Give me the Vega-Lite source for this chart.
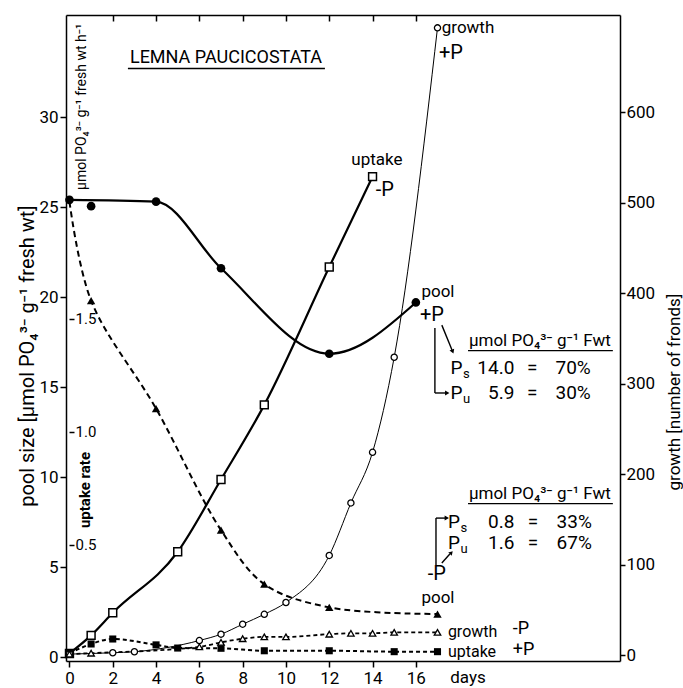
{
  "$schema": "https://vega.github.io/schema/vega-lite/v6.json",
  "width": 554,
  "height": 646,
  "autosize": "none",
  "padding": {"left": 66, "top": 15, "right": 63, "bottom": 27},
  "background": "white",
  "config": {
    "view": {"stroke": null},
    "font": "Roboto",
    "axis": {"grid": false, "domainColor": "black", "domainWidth": 1.5, "tickColor": "black", "tickWidth": 1.5, "labelColor": "black", "labelFont": "Roboto", "labelFontSize": 17},
    "text": {"color": "black", "font": "Roboto"},
    "rule": {"color": "black", "strokeWidth": 1.4}
  },
  "datasets": {
    "poolPlus": [{"day": 0, "pool": 25.4}, {"day": 1, "pool": 25.05}, {"day": 4, "pool": 25.3}, {"day": 7, "pool": 21.6}, {"day": 12, "pool": 16.85}, {"day": 16, "pool": 19.7}],
    "poolMinus": [{"day": 0, "pool": 25.3}, {"day": 1, "pool": 19.8}, {"day": 4, "pool": 13.8}, {"day": 7, "pool": 7.05}, {"day": 9, "pool": 4.05}, {"day": 12, "pool": 2.76}, {"day": 17, "pool": 2.39}],
    "uptakeMinus": [{"day": 0, "rate": 0.02}, {"day": 1, "rate": 0.1}, {"day": 2, "rate": 0.2}, {"day": 5, "rate": 0.47}, {"day": 7, "rate": 0.79}, {"day": 9, "rate": 1.12}, {"day": 12, "rate": 1.73}, {"day": 14, "rate": 2.13}],
    "uptakePlus": [{"day": 0, "rate": 0.02}, {"day": 1, "rate": 0.062}, {"day": 2, "rate": 0.084}, {"day": 4, "rate": 0.058}, {"day": 5, "rate": 0.044}, {"day": 7, "rate": 0.043}, {"day": 9, "rate": 0.032}, {"day": 12, "rate": 0.032}, {"day": 15, "rate": 0.028}, {"day": 17, "rate": 0.028}],
    "growthPlus": [{"day": 0, "fronds": 1}, {"day": 2, "fronds": 2.5}, {"day": 3, "fronds": 3.6}, {"day": 6, "fronds": 16}, {"day": 7, "fronds": 23}, {"day": 8, "fronds": 34}, {"day": 9, "fronds": 45}, {"day": 10, "fronds": 58}, {"day": 12, "fronds": 110}, {"day": 13, "fronds": 168}, {"day": 14, "fronds": 224}, {"day": 15, "fronds": 329}, {"day": 17, "fronds": 693}],
    "growthMinus": [{"day": 0, "fronds": 1}, {"day": 1, "fronds": 2}, {"day": 6, "fronds": 9}, {"day": 7, "fronds": 14}, {"day": 8, "fronds": 18}, {"day": 9, "fronds": 20}, {"day": 10, "fronds": 20}, {"day": 12, "fronds": 23}, {"day": 13, "fronds": 24}, {"day": 14, "fronds": 24}, {"day": 15, "fronds": 25}, {"day": 17, "fronds": 25}]
  },
  "resolve": {"scale": {"x": "independent", "y": "independent"}, "axis": {"x": "independent", "y": "independent"}},
  "layer": [
    {
      "encoding": {
        "x": {"field": "day", "type": "quantitative", "scale": {"domain": [-0.16, 25.43], "nice": false, "zero": false}, "axis": null},
        "y": {"field": "rate", "type": "quantitative", "scale": {"domain": [-0.0133, 2.845], "nice": false, "zero": false}, "axis": {"orient": "right", "offset": -551, "values": [0.5, 1, 1.5], "format": ".1f", "domain": false, "tickSize": 5, "labelFontSize": 15, "labelPadding": 1, "title": null}}
      },
      "layer": [
        {"data": {"name": "uptakeMinus"}, "mark": {"type": "line", "interpolate": "monotone", "color": "black", "strokeWidth": 2.2}},
        {"data": {"name": "uptakePlus"}, "mark": {"type": "line", "interpolate": "monotone", "color": "black", "strokeWidth": 2, "strokeDash": [4, 3]}},
        {"data": {"name": "uptakeMinus"}, "mark": {"type": "point", "shape": "square", "filled": true, "fill": "white", "stroke": "black", "strokeWidth": 1.5, "size": 62, "opacity": 1}},
        {"data": {"name": "uptakePlus"}, "mark": {"type": "point", "shape": "square", "filled": true, "color": "black", "size": 50, "opacity": 1}}
      ]
    },
    {
      "encoding": {
        "x": {"field": "day", "type": "quantitative", "scale": {"domain": [-0.16, 25.43], "nice": false, "zero": false}, "axis": {"orient": "top", "values": [2, 4, 6, 8, 10, 12, 14, 16], "labels": false, "tickSize": -6, "title": null}},
        "y": {"field": "fronds", "type": "quantitative", "scale": {"domain": [-6.63, 707.2], "nice": false, "zero": false}, "axis": {"orient": "right", "values": [0, 100, 200, 300, 400, 500, 600], "tickSize": 5, "labelPadding": 1, "title": null}}
      },
      "layer": [
        {"data": {"name": "growthPlus"}, "mark": {"type": "line", "interpolate": "monotone", "color": "black", "strokeWidth": 1}},
        {"data": {"name": "growthMinus"}, "mark": {"type": "line", "interpolate": "monotone", "color": "black", "strokeWidth": 1.8, "strokeDash": [4, 3]}},
        {"data": {"name": "growthPlus"}, "mark": {"type": "point", "shape": "circle", "filled": true, "fill": "white", "stroke": "black", "strokeWidth": 1.3, "size": 38, "opacity": 1}},
        {"data": {"name": "growthMinus"}, "mark": {"type": "point", "shape": "triangle-up", "filled": true, "fill": "white", "stroke": "black", "strokeWidth": 1.3, "size": 42, "opacity": 1}}
      ]
    },
    {
      "layer": [
        {"data": {"name": "poolPlus"}, "transform": [{"filter": "datum.day != 1"}], "mark": {"type": "line", "interpolate": "monotone", "color": "black", "strokeWidth": 2.2},
         "encoding": {
           "x": {"field": "day", "type": "quantitative", "scale": {"domain": [-0.16, 25.43], "nice": false, "zero": false}, "axis": {"orient": "bottom", "values": [0, 2, 4, 6, 8, 10, 12, 14, 16], "tickSize": 6, "labelPadding": 3, "title": null}},
           "y": {"field": "pool", "type": "quantitative", "scale": {"domain": [-0.22, 35.67], "nice": false, "zero": false}, "axis": {"orient": "left", "values": [0, 5, 10, 15, 20, 25, 30], "tickSize": 6, "labelPadding": 2, "title": null}}
         }},
        {"data": {"name": "poolMinus"}, "mark": {"type": "line", "interpolate": "catmull-rom", "color": "black", "strokeWidth": 2, "strokeDash": [6, 4]},
         "encoding": {"x": {"field": "day", "type": "quantitative", "scale": {"domain": [-0.16, 25.43], "nice": false, "zero": false}}, "y": {"field": "pool", "type": "quantitative", "scale": {"domain": [-0.22, 35.67], "nice": false, "zero": false}}}},
        {"data": {"name": "poolMinus"}, "transform": [{"filter": "datum.day > 0"}], "mark": {"type": "point", "shape": "triangle-up", "filled": true, "color": "black", "size": 70, "opacity": 1},
         "encoding": {"x": {"field": "day", "type": "quantitative", "scale": {"domain": [-0.16, 25.43], "nice": false, "zero": false}}, "y": {"field": "pool", "type": "quantitative", "scale": {"domain": [-0.22, 35.67], "nice": false, "zero": false}}}},
        {"data": {"name": "poolPlus"}, "mark": {"type": "point", "shape": "circle", "filled": true, "color": "black", "size": 75, "opacity": 1},
         "encoding": {"x": {"field": "day", "type": "quantitative", "scale": {"domain": [-0.16, 25.43], "nice": false, "zero": false}}, "y": {"field": "pool", "type": "quantitative", "scale": {"domain": [-0.22, 35.67], "nice": false, "zero": false}}}},

        {"data": {"values": [{}]}, "mark": {"type": "text", "text": "LEMNA PAUCICOSTATA", "fontSize": 18}, "encoding": {"x": {"datum": 7.23}, "y": {"datum": 33.28}}},
        {"data": {"values": [{}]}, "mark": {"type": "rule", "strokeWidth": 1.5}, "encoding": {"x": {"datum": 2.7}, "x2": {"datum": 11.8}, "y": {"datum": 32.7}}},

        {"data": {"values": [{}]}, "mark": {"type": "text", "text": "uptake", "fontSize": 17}, "encoding": {"x": {"datum": 14.2}, "y": {"datum": 27.61}}},
        {"data": {"values": [{}]}, "mark": {"type": "text", "text": "-P", "fontSize": 20}, "encoding": {"x": {"datum": 14.57}, "y": {"datum": 25.94}}},
        {"data": {"values": [{}]}, "mark": {"type": "text", "text": "growth", "fontSize": 17}, "encoding": {"x": {"datum": 18.41}, "y": {"datum": 34.94}}},
        {"data": {"values": [{}]}, "mark": {"type": "text", "text": "+P", "fontSize": 20}, "encoding": {"x": {"datum": 17.62}, "y": {"datum": 33.56}}},
        {"data": {"values": [{}]}, "mark": {"type": "text", "text": "pool", "fontSize": 17}, "encoding": {"x": {"datum": 17.02}, "y": {"datum": 20.28}}},
        {"data": {"values": [{}]}, "mark": {"type": "text", "text": "+P", "fontSize": 20}, "encoding": {"x": {"datum": 16.74}, "y": {"datum": 19.0}}},

        {"data": {"values": [{}]}, "mark": {"type": "text", "text": "μmol PO₄³⁻ g⁻¹ Fwt", "fontSize": 17}, "encoding": {"x": {"datum": 21.73}, "y": {"datum": 17.55}}},
        {"data": {"values": [{}]}, "mark": {"type": "rule", "strokeWidth": 1.3}, "encoding": {"x": {"datum": 18.41}, "x2": {"datum": 25.1}, "y": {"datum": 17.02}}},
        {"data": {"values": [{}]}, "mark": {"type": "text", "text": "P", "fontSize": 19, "align": "left"}, "encoding": {"x": {"datum": 17.6}, "y": {"datum": 16.06}}},
        {"data": {"values": [{}]}, "mark": {"type": "text", "text": "s", "fontSize": 13, "align": "left"}, "encoding": {"x": {"datum": 18.18}, "y": {"datum": 15.75}}},
        {"data": {"values": [{}]}, "mark": {"type": "text", "text": "14.0", "fontSize": 19, "align": "right"}, "encoding": {"x": {"datum": 20.55}, "y": {"datum": 16.06}}},
        {"data": {"values": [{}]}, "mark": {"type": "text", "text": "=", "fontSize": 19}, "encoding": {"x": {"datum": 21.38}, "y": {"datum": 16.06}}},
        {"data": {"values": [{}]}, "mark": {"type": "text", "text": "70%", "fontSize": 19, "align": "left"}, "encoding": {"x": {"datum": 22.45}, "y": {"datum": 16.06}}},
        {"data": {"values": [{}]}, "mark": {"type": "text", "text": "P", "fontSize": 19, "align": "left"}, "encoding": {"x": {"datum": 17.6}, "y": {"datum": 14.67}}},
        {"data": {"values": [{}]}, "mark": {"type": "text", "text": "u", "fontSize": 13, "align": "left"}, "encoding": {"x": {"datum": 18.18}, "y": {"datum": 14.36}}},
        {"data": {"values": [{}]}, "mark": {"type": "text", "text": "5.9", "fontSize": 19, "align": "right"}, "encoding": {"x": {"datum": 20.55}, "y": {"datum": 14.67}}},
        {"data": {"values": [{}]}, "mark": {"type": "text", "text": "=", "fontSize": 19}, "encoding": {"x": {"datum": 21.38}, "y": {"datum": 14.67}}},
        {"data": {"values": [{}]}, "mark": {"type": "text", "text": "30%", "fontSize": 19, "align": "left"}, "encoding": {"x": {"datum": 22.45}, "y": {"datum": 14.67}}},
        {"data": {"values": [{}]}, "mark": {"type": "rule"}, "encoding": {"x": {"datum": 16.88}, "y": {"datum": 18.28}, "y2": {"datum": 14.67}}},
        {"data": {"values": [{}]}, "mark": {"type": "rule"}, "encoding": {"x": {"datum": 16.88}, "x2": {"datum": 17.4}, "y": {"datum": 14.67}}},
        {"data": {"values": [{}]}, "mark": {"type": "rule"}, "encoding": {"x": {"datum": 17.2}, "x2": {"datum": 17.67}, "y": {"datum": 18.44}, "y2": {"datum": 17.06}}},
        {"data": {"values": [{}]}, "mark": {"type": "point", "shape": "triangle-right", "filled": true, "color": "black", "size": 25, "opacity": 1}, "encoding": {"x": {"datum": 17.45}, "y": {"datum": 14.67}}},
        {"data": {"values": [{}]}, "mark": {"type": "point", "shape": "triangle-down", "angle": -22, "filled": true, "color": "black", "size": 25, "opacity": 1}, "encoding": {"x": {"datum": 17.7}, "y": {"datum": 16.97}}},

        {"data": {"values": [{}]}, "mark": {"type": "text", "text": "μmol PO₄³⁻ g⁻¹ Fwt", "fontSize": 17}, "encoding": {"x": {"datum": 21.73}, "y": {"datum": 9.05}}},
        {"data": {"values": [{}]}, "mark": {"type": "rule", "strokeWidth": 1.3}, "encoding": {"x": {"datum": 18.41}, "x2": {"datum": 25.1}, "y": {"datum": 8.52}}},
        {"data": {"values": [{}]}, "mark": {"type": "text", "text": "P", "fontSize": 19, "align": "left"}, "encoding": {"x": {"datum": 17.48}, "y": {"datum": 7.5}}},
        {"data": {"values": [{}]}, "mark": {"type": "text", "text": "s", "fontSize": 13, "align": "left"}, "encoding": {"x": {"datum": 18.06}, "y": {"datum": 7.19}}},
        {"data": {"values": [{}]}, "mark": {"type": "text", "text": "0.8", "fontSize": 19, "align": "right"}, "encoding": {"x": {"datum": 20.55}, "y": {"datum": 7.5}}},
        {"data": {"values": [{}]}, "mark": {"type": "text", "text": "=", "fontSize": 19}, "encoding": {"x": {"datum": 21.41}, "y": {"datum": 7.5}}},
        {"data": {"values": [{}]}, "mark": {"type": "text", "text": "33%", "fontSize": 19, "align": "left"}, "encoding": {"x": {"datum": 22.5}, "y": {"datum": 7.5}}},
        {"data": {"values": [{}]}, "mark": {"type": "text", "text": "P", "fontSize": 19, "align": "left"}, "encoding": {"x": {"datum": 17.48}, "y": {"datum": 6.33}}},
        {"data": {"values": [{}]}, "mark": {"type": "text", "text": "u", "fontSize": 13, "align": "left"}, "encoding": {"x": {"datum": 18.06}, "y": {"datum": 6.02}}},
        {"data": {"values": [{}]}, "mark": {"type": "text", "text": "1.6", "fontSize": 19, "align": "right"}, "encoding": {"x": {"datum": 20.55}, "y": {"datum": 6.33}}},
        {"data": {"values": [{}]}, "mark": {"type": "text", "text": "=", "fontSize": 19}, "encoding": {"x": {"datum": 21.41}, "y": {"datum": 6.33}}},
        {"data": {"values": [{}]}, "mark": {"type": "text", "text": "67%", "fontSize": 19, "align": "left"}, "encoding": {"x": {"datum": 22.5}, "y": {"datum": 6.33}}},
        {"data": {"values": [{}]}, "mark": {"type": "text", "text": "-P", "fontSize": 20}, "encoding": {"x": {"datum": 16.97}, "y": {"datum": 4.61}}},
        {"data": {"values": [{}]}, "mark": {"type": "text", "text": "pool", "fontSize": 17}, "encoding": {"x": {"datum": 17.02}, "y": {"datum": 3.28}}},
        {"data": {"values": [{}]}, "mark": {"type": "rule"}, "encoding": {"x": {"datum": 16.93}, "y": {"datum": 5.11}, "y2": {"datum": 7.72}}},
        {"data": {"values": [{}]}, "mark": {"type": "rule"}, "encoding": {"x": {"datum": 16.93}, "x2": {"datum": 17.38}, "y": {"datum": 7.72}}},
        {"data": {"values": [{}]}, "mark": {"type": "rule"}, "encoding": {"x": {"datum": 17.2}, "x2": {"datum": 17.57}, "y": {"datum": 5.22}, "y2": {"datum": 5.72}}},
        {"data": {"values": [{}]}, "mark": {"type": "point", "shape": "triangle-right", "filled": true, "color": "black", "size": 25, "opacity": 1}, "encoding": {"x": {"datum": 17.43}, "y": {"datum": 7.72}}},
        {"data": {"values": [{}]}, "mark": {"type": "point", "shape": "triangle-up", "angle": 42, "filled": true, "color": "black", "size": 22, "opacity": 1}, "encoding": {"x": {"datum": 17.64}, "y": {"datum": 5.8}}},

        {"data": {"values": [{}]}, "mark": {"type": "text", "text": "growth", "fontSize": 16, "align": "left"}, "encoding": {"x": {"datum": 17.48}, "y": {"datum": 1.39}}},
        {"data": {"values": [{}]}, "mark": {"type": "text", "text": "-P", "fontSize": 18, "align": "left"}, "encoding": {"x": {"datum": 20.48}, "y": {"datum": 1.55}}},
        {"data": {"values": [{}]}, "mark": {"type": "text", "text": "uptake", "fontSize": 16, "align": "left"}, "encoding": {"x": {"datum": 17.48}, "y": {"datum": 0.28}}},
        {"data": {"values": [{}]}, "mark": {"type": "text", "text": "+P", "fontSize": 18, "align": "left"}, "encoding": {"x": {"datum": 20.48}, "y": {"datum": 0.39}}},
        {"data": {"values": [{}]}, "mark": {"type": "text", "text": "days", "fontSize": 17}, "encoding": {"x": {"datum": 18.41}, "y": {"datum": -1.17}}},

        {"data": {"values": [{}]}, "mark": {"type": "text", "text": "μmol PO₄³⁻ g⁻¹ fresh wt h⁻¹", "fontSize": 14, "angle": 270}, "encoding": {"x": {"datum": 0.58}, "y": {"datum": 30.56}}},
        {"data": {"values": [{}]}, "mark": {"type": "text", "text": "uptake rate", "fontSize": 15, "fontWeight": "bold", "angle": 270}, "encoding": {"x": {"datum": 0.72}, "y": {"datum": 9.28}}},
        {"data": {"values": [{}]}, "mark": {"type": "text", "text": "pool size [μmol PO₄³⁻ g⁻¹ fresh wt]", "fontSize": 20, "angle": 270}, "encoding": {"x": {"datum": -1.92}, "y": {"datum": 16.72}}},
        {"data": {"values": [{}]}, "mark": {"type": "text", "text": "growth [number of fronds]", "fontSize": 17, "angle": 270}, "encoding": {"x": {"datum": 27.97}, "y": {"datum": 14.72}}}
      ]
    }
  ]
}
